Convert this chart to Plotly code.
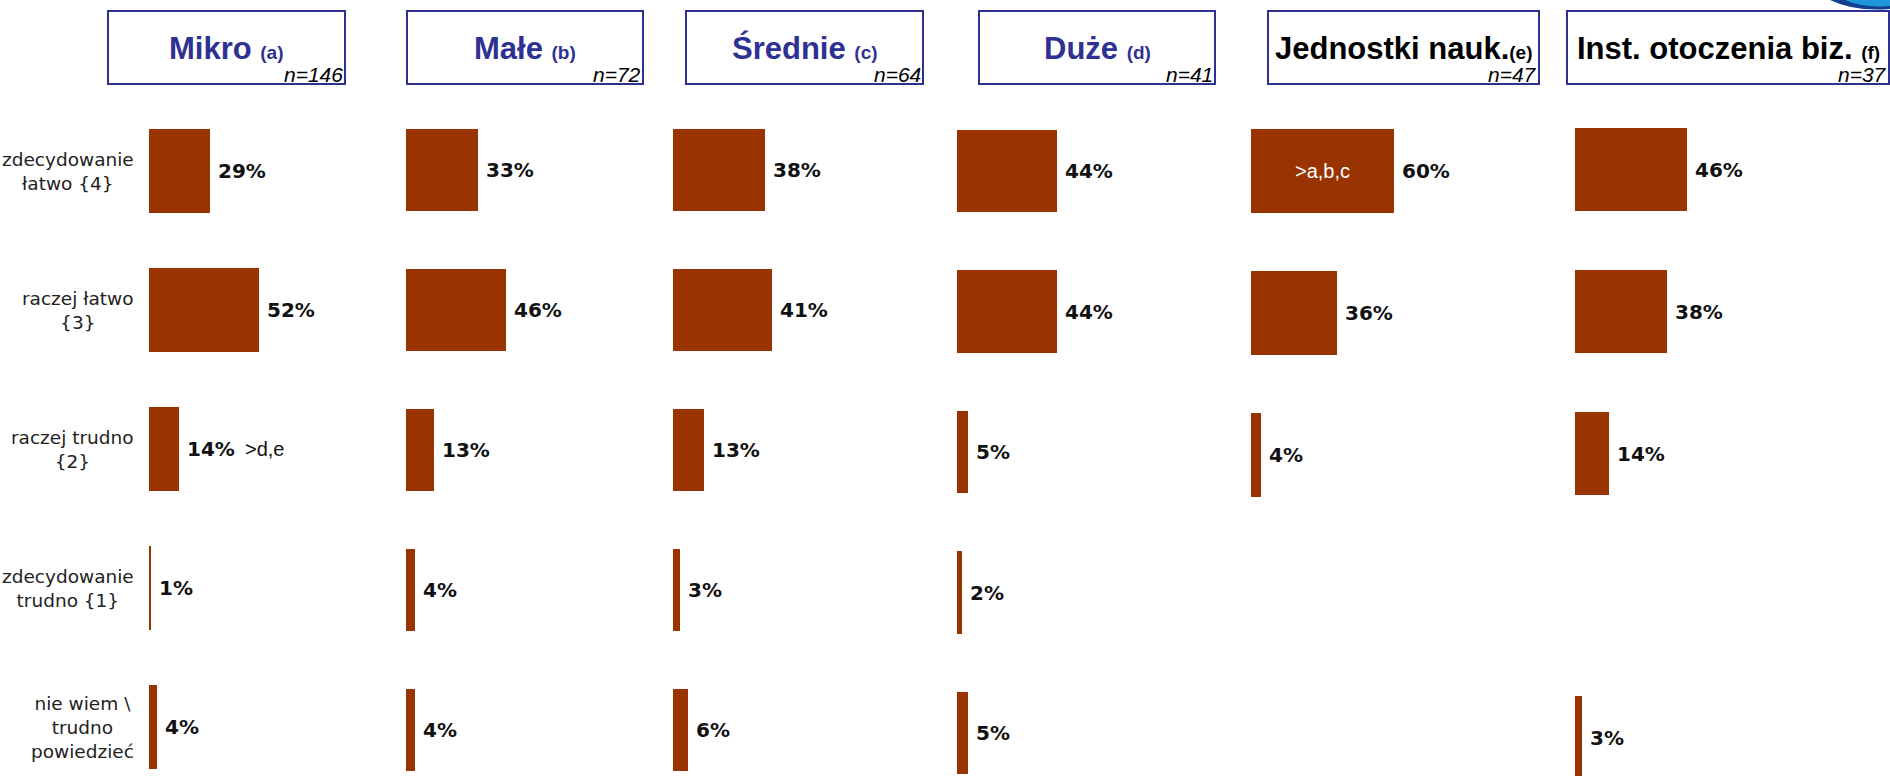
import plotly.graph_objects as go

# ---------------- data ----------------
categories = [
    "zdecydowanie<br>łatwo {4}",
    "raczej łatwo<br>{3}",
    "raczej trudno<br>{2}",
    "zdecydowanie<br>trudno {1}",
    "nie wiem \\<br>trudno<br>powiedzieć",
]
segments = ["Mikro", "Małe", "Średnie", "Duże", "Jednostki nauk.", "Inst. otoczenia biz."]
segment_codes = ["(a)", "(b)", "(c)", "(d)", "(e)", "(f)"]
sample_sizes = [146, 72, 64, 41, 47, 37]

mikro = [29, 52, 14, 1, 4]
male = [33, 46, 13, 4, 4]
srednie = [38, 41, 13, 3, 6]
duze = [44, 44, 5, 2, 5]
jednostki = [60, 36, 4, None, None]
inst = [46, 38, 14, None, 3]
series = [mikro, male, srednie, duze, jednostki, inst]

# significance notes: (panel, category index, text, inside bar?)
sig_notes = [(0, 2, ">d,e", False), (4, 0, ">a,b,c", True)]

# ---------------- styling / geometry ----------------
W, H = 1890, 776
BAR = "#993300"
NAVY = "#2E3192"
x0s = [149, 406, 673, 957, 1251, 1575]
px_per_pct = [2.12, 2.18, 2.42, 2.27, 2.38, 2.43]
row_c0 = [171, 170, 170, 171, 171, 169.5]
row_step = [139, 140, 140, 140.5, 142, 142]
bar_w = [0.6, 0.59, 0.59, 0.59, 0.59, 0.59]
boxes = [(108, 345), (407, 643), (686, 923), (979, 1215), (1268, 1539), (1567, 1889)]
box_top, box_bot = 11, 84
title_colors = [NAVY, NAVY, NAVY, NAVY, "#000000", "#000000"]

fig = go.Figure()
annotations = []
shapes = []

for i, vals in enumerate(series):
    xa = "x" if i == 0 else f"x{i+1}"
    ya = "y" if i == 0 else f"y{i+1}"
    fig.add_trace(go.Bar(
        x=vals, y=categories, orientation="h",
        width=bar_w[i], marker=dict(color=BAR, line=dict(width=0)),
        xaxis=xa, yaxis=ya, showlegend=False, hoverinfo="skip",
    ))
    xd0 = x0s[i] / W
    xd1 = (x0s[i] + 100 * px_per_pct[i]) / W
    c0, s = row_c0[i], row_step[i]
    xkey = "xaxis" if i == 0 else f"xaxis{i+1}"
    ykey = "yaxis" if i == 0 else f"yaxis{i+1}"
    fig.update_layout({
        xkey: dict(domain=[xd0, xd1], range=[0, 100], visible=False,
                   anchor=ya, fixedrange=True),
        ykey: dict(domain=[0, 1], range=[(H - c0) / s, -c0 / s], visible=False,
                   anchor=xa, type="category", categoryorder="array",
                   categoryarray=categories, fixedrange=True),
    })
    # value labels
    for j, v in enumerate(vals):
        if v is None:
            continue
        annotations.append(dict(
            x=v, y=categories[j], xref=xa, yref=ya, xanchor="left", yanchor="middle",
            xshift=6, text=f"{v}%", showarrow=False,
            font=dict(family="DejaVu Sans", size=20, color="#111111", weight="bold"),
        ))
    # header box
    bx0, bx1 = boxes[i]
    shapes.append(dict(type="rect", xref="paper", yref="paper",
                       x0=bx0 / W, x1=bx1 / W, y0=1 - box_bot / H, y1=1 - box_top / H,
                       line=dict(color=NAVY, width=2), fillcolor="white", layer="below"))
    sep = "" if i == 4 else " "
    annotations.append(dict(
        x=(bx0 + bx1) / 2 / W, y=1 - 48 / H, xref="paper", yref="paper",
        xanchor="center", yanchor="middle", showarrow=False,
        text=f"{segments[i]}{sep}<span style='font-size:19px'>{segment_codes[i]}</span>",
        font=dict(family="Liberation Sans, Arial", size=31, color=title_colors[i], weight="bold"),
    ))
    annotations.append(dict(
        x=(bx1 - 1) / W, y=1 - (box_bot + 3) / H, xref="paper", yref="paper",
        xanchor="right", yanchor="bottom", showarrow=False,
        text=f"<i>n={sample_sizes[i]}</i>",
        font=dict(family="Liberation Sans, Arial", size=21, color="#000000"),
        borderpad=0,
    ))

# category labels at left
for j, c in enumerate(categories):
    annotations.append(dict(
        x=136 / W, y=c, xref="paper", yref="y", xanchor="right", yanchor="middle",
        align="center", text=c, showarrow=False,
        font=dict(family="DejaVu Sans", size=18.5, color="#222222"),
    ))

# significance notes
for (p, j, txt, inside) in sig_notes:
    xa = "x" if p == 0 else f"x{p+1}"
    ya = "y" if p == 0 else f"y{p+1}"
    v = series[p][j]
    if inside:
        annotations.append(dict(
            x=v / 2, y=categories[j], xref=xa, yref=ya, xanchor="center", yanchor="middle",
            text=txt, showarrow=False,
            font=dict(family="Liberation Sans, Arial", size=20, color="#ffffff"),
        ))
    else:
        annotations.append(dict(
            x=v, y=categories[j], xref=xa, yref=ya, xanchor="left", yanchor="middle",
            xshift=64, text=txt, showarrow=False,
            font=dict(family="Liberation Sans, Arial", size=20, color="#111111"),
        ))

# decorative blue swoosh at top-right corner (partly above the page edge)
shapes.append(dict(type="path", xref="paper", yref="paper",
                   path=(f"M {1830/W},1 Q {1855/W},{1-12/H} {1890/W},{1-9/H} "
                         f"L 1,1 Z"),
                   fillcolor="#143F8F", line=dict(width=0), layer="above"))
shapes.append(dict(type="path", xref="paper", yref="paper",
                   path=(f"M {1845/W},1 Q {1862/W},{1-8/H} {1890/W},{1-6/H} "
                         f"L 1,1 Z"),
                   fillcolor="#1F95DA", line=dict(width=0), layer="above"))

fig.update_layout(
    width=W, height=H, margin=dict(l=0, r=0, t=0, b=0),
    paper_bgcolor="white", plot_bgcolor="white",
    annotations=annotations, shapes=shapes, bargap=0,
    showlegend=False,
)

fig.write_html("out.html", config={"displayModeBar": False, "staticPlot": True},
               post_script="document.body.style.margin='0';document.body.style.overflow='hidden';")
